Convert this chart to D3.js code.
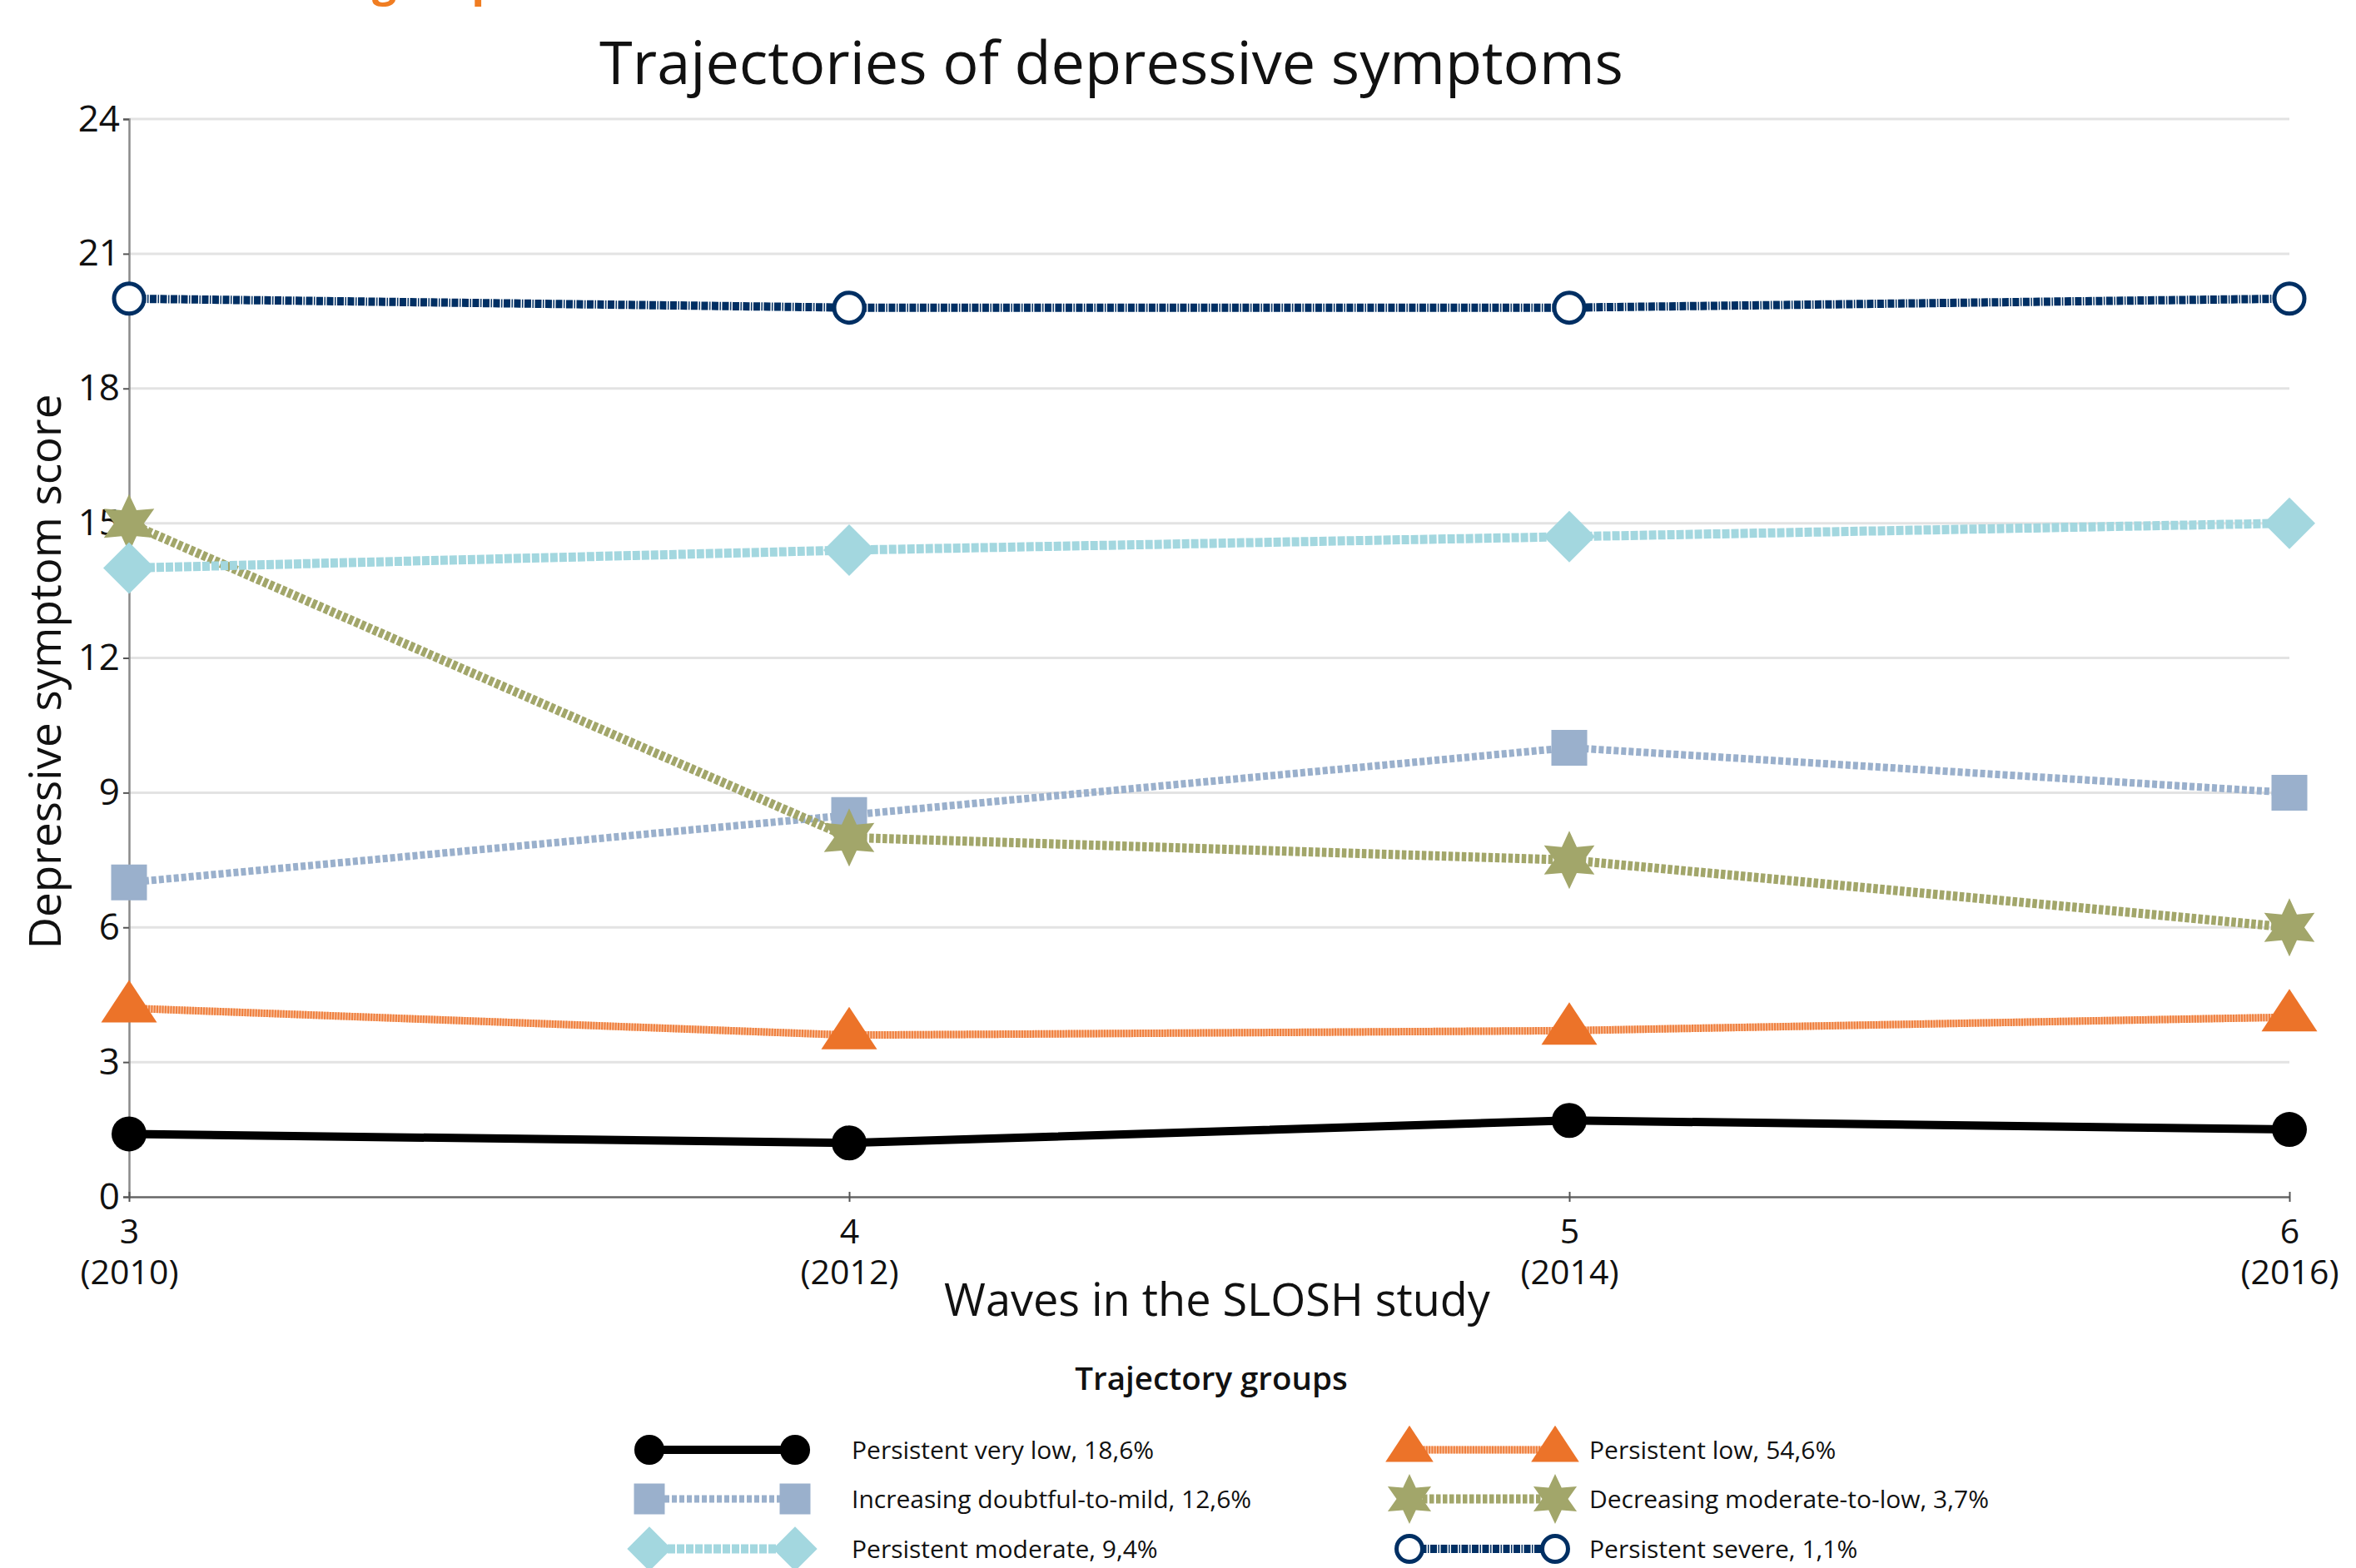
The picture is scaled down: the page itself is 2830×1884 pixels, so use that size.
<!DOCTYPE html>
<html>
<head>
<meta charset="utf-8">
<script src="https://cdn.jsdelivr.net/npm/d3@7"></script>
<style>
  html, body { margin: 0; padding: 0; background: #fff; }
  svg { display: block; }
  text { font-family: "Open Sans", "Noto Sans", sans-serif; fill: #111; }
</style>
</head>
<body>
<svg id="chart" width="2830" height="1884"></svg>
<script>
// ---------- data ----------
const waves = [3, 4, 5, 6];
const waveYears = ["(2010)", "(2012)", "(2014)", "(2016)"];
const yTicks = [0, 3, 6, 9, 12, 15, 18, 21, 24];

const groupNames = [
  "Persistent very low, 18,6%",
  "Persistent low, 54,6%",
  "Increasing doubtful-to-mild, 12,6%",
  "Decreasing moderate-to-low, 3,7%",
  "Persistent moderate, 9,4%",
  "Persistent severe, 1,1%"
];
const veryLow    = [1.4, 1.2, 1.7, 1.5];
const low        = [4.2, 3.6, 3.7, 4.0];
const increasing = [7.0, 8.5, 10.0, 9.0];
const decreasing = [15.0, 8.0, 7.5, 6.0];
const moderate   = [14.0, 14.4, 14.7, 15.0];
const severe     = [20.0, 19.8, 19.8, 20.0];

const titleText = "Trajectories of depressive symptoms";
const xLabel = "Waves in the SLOSH study";
const yLabel = "Depressive symptom score";
const legendTitle = "Trajectory groups";

// ---------- styles ----------
const styles = [
  { vals: veryLow,    marker: "circle",   color: "#000000", line: "#000000", width: 10, dash: null },
  { vals: low,        marker: "triangle", color: "#ec7329", line: "#ef7e3c", base: "#f8c6a6", width: 9, dash: "2,1.3" },
  { vals: increasing, marker: "square",   color: "#9ab0cc", line: "#9ab0cc", width: 9, dash: "6,3" },
  { vals: decreasing, marker: "star",     color: "#a2a66a", line: "#a2a66a", width: 11, dash: "5.5,2.5" },
  { vals: moderate,   marker: "diamond",  color: "#a3d7df", line: "#a3d7df", width: 11, dash: "9,2" },
  { vals: severe,     marker: "ocircle",  color: "#002f63", line: "#002f63", width: 10, dash: "8,1.5,1.5,1.5" }
];

const svg = d3.select("#chart");
svg.append("rect").attr("width", 2830).attr("height", 1884).attr("fill", "#fff");

const x = d3.scaleLinear().domain([3, 6]).range([155, 2750]);
const y = d3.scaleLinear().domain([0, 24]).range([1438, 143]);

// cropped orange heading fragment at top (cut by the picture's edge, as in the reference)
svg.append("text").attr("x", 447).attr("y", -5)
  .style("font-size", "52px").style("font-weight", 700).style("fill", "#f07d22")
  .text("groups");

// gridlines
svg.append("g").selectAll("line").data(yTicks.filter(d => d > 0)).join("line")
  .attr("x1", x(3)).attr("x2", x(6))
  .attr("y1", d => y(d)).attr("y2", d => y(d))
  .attr("stroke", "#e3e3e3").attr("stroke-width", 3);

// axes
const yAxis = svg.append("g").attr("transform", `translate(${x(3)},0)`)
  .call(d3.axisLeft(y).tickValues(yTicks).tickSize(7).tickPadding(4).tickFormat(d3.format("d")));
yAxis.select(".domain").attr("stroke", "#8a8a8a").attr("stroke-width", 2.5);
yAxis.selectAll(".tick line").attr("stroke", "#555").attr("stroke-width", 2);
yAxis.selectAll(".tick text").style("font-size", "44px").style("fill", "#111");

const xAxis = svg.append("g").attr("transform", `translate(0,${y(0)})`)
  .call(d3.axisBottom(x).tickValues(waves).tickSize(6).tickSizeOuter(0).tickFormat(""));
xAxis.select(".domain").attr("stroke", "#666").attr("stroke-width", 2.5);
xAxis.selectAll(".tick line").attr("stroke", "#555").attr("stroke-width", 2).attr("y1", -6);
xAxis.selectAll(".tick").each(function(d, i) {
  const g = d3.select(this);
  g.append("text").attr("text-anchor", "middle").attr("x", 0).attr("y", 56)
    .style("font-size", "41px").style("fill", "#111").text(d);
  g.append("text").attr("text-anchor", "middle").attr("x", 0).attr("y", 105)
    .style("font-size", "41px").style("fill", "#111").text(waveYears[i]);
});
svg.selectAll(".tick text").attr("font-family", null).attr("font-size", null);

// marker path generator
function markerPath(type, s) {
  const k = s || 1;
  if (type === "triangle") {
    return `M0,${-34*k}L${33.5*k},${17*k}L${-33.5*k},${17*k}Z`;
  }
  if (type === "square") {
    const h = 21.5 * k;
    return `M${-h},${-h}H${h}V${h}H${-h}Z`;
  }
  if (type === "diamond") {
    const h = 31 * k;
    return `M0,${-h}L${h},0L0,${h}L${-h},0Z`;
  }
  if (type === "star") {
    const R = 35 * k, r = 18 * k;
    let p = "";
    for (let i = 0; i < 12; i++) {
      const a = (-90 + i * 30) * Math.PI / 180;
      const rr = i % 2 === 0 ? R : r;
      p += (i === 0 ? "M" : "L") + (rr * Math.cos(a)).toFixed(2) + "," + (rr * Math.sin(a)).toFixed(2);
    }
    return p + "Z";
  }
  return null;
}

function drawMarker(g, type, color, cx, cy, s) {
  const k = s || 1;
  if (type === "circle") {
    g.append("circle").attr("cx", cx).attr("cy", cy).attr("r", 21 * k).attr("fill", color);
  } else if (type === "ocircle") {
    g.append("circle").attr("cx", cx).attr("cy", cy).attr("r", 18 * k)
      .attr("fill", "#fff").attr("stroke", color).attr("stroke-width", 5);
  } else {
    g.append("path").attr("d", markerPath(type, k))
      .attr("transform", `translate(${cx},${cy})`).attr("fill", color);
  }
}

function drawLine(g, st, pts) {
  const line = d3.line().x(d => d[0]).y(d => d[1]);
  if (st.base) {
    g.append("path").attr("d", line(pts)).attr("fill", "none")
      .attr("stroke", st.base).attr("stroke-width", st.width);
  }
  const p = g.append("path").attr("d", line(pts)).attr("fill", "none")
    .attr("stroke", st.line).attr("stroke-width", st.width);
  if (st.dash) p.attr("stroke-dasharray", st.dash);
}

// series
const plot = svg.append("g");
styles.forEach(st => {
  const g = plot.append("g");
  const pts = waves.map((w, i) => [x(w), y(st.vals[i])]);
  drawLine(g, st, pts);
  pts.forEach(p => drawMarker(g, st.marker, st.color, p[0], p[1], 1));
});

// titles
svg.append("text").attr("x", 1335).attr("y", 101).attr("text-anchor", "middle")
  .style("font-size", "72px").text(titleText);
svg.append("text").attr("transform", "translate(73,807) rotate(-90)").attr("text-anchor", "middle")
  .style("font-size", "53px").text(yLabel);
svg.append("text").attr("x", 1462).attr("y", 1581).attr("text-anchor", "middle")
  .style("font-size", "54px").text(xLabel);

// legend
svg.append("text").attr("x", 1455).attr("y", 1670).attr("text-anchor", "middle")
  .style("font-size", "38.5px").style("font-weight", 600).text(legendTitle);

const legCols = [
  { m1: 780, m2: 955, tx: 1023 },
  { m1: 1693, m2: 1868, tx: 1909 }
];
const legRows = [1742, 1801, 1861];
const legOrder = [0, 2, 4, 1, 3, 5]; // column-major
const leg = svg.append("g");
legOrder.forEach((si, j) => {
  const col = legCols[Math.floor(j / 3)];
  const ry = legRows[j % 3];
  const st = styles[si];
  const g = leg.append("g");
  drawLine(g, st, [[col.m1, ry], [col.m2, ry]]);
  drawMarker(g, st.marker, st.color, col.m1, ry, 0.86);
  drawMarker(g, st.marker, st.color, col.m2, ry, 0.86);
  g.append("text").attr("x", col.tx).attr("y", ry).attr("dy", "0.35em")
    .style("font-size", "30px").text(groupNames[si]);
});
</script>
</body>
</html>
